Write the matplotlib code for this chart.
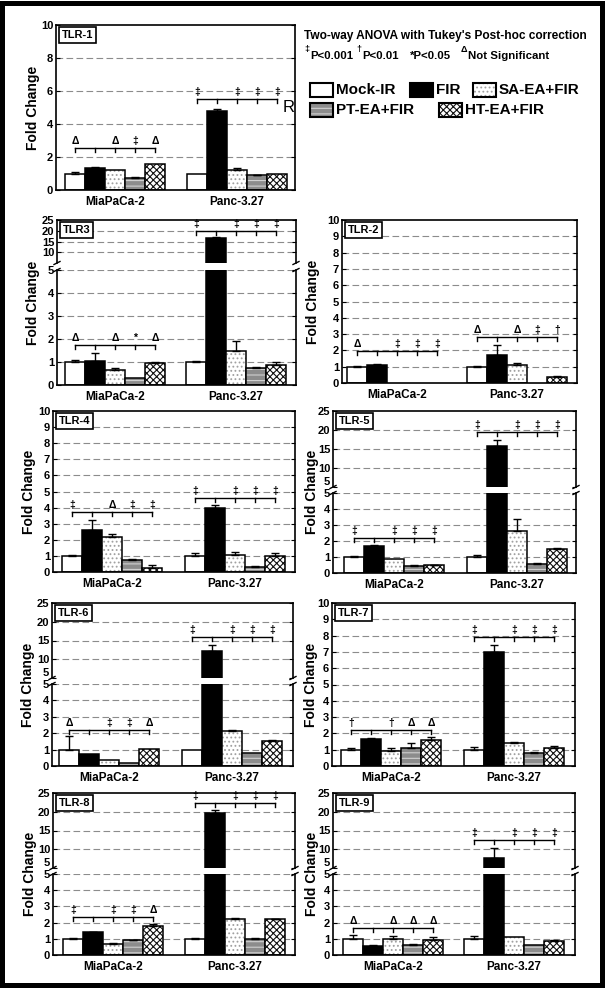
import matplotlib.pyplot as plt
from matplotlib.patches import Rectangle
from matplotlib.lines import Line2D

plt.rcParams["font.family"] = ["Liberation Sans", "DejaVu Sans"]
plt.rcParams["hatch.linewidth"] = 0.8

W, H = 606, 992

groups = ["MiaPaCa-2", "Panc-3.27"]
treatments = ["Mock-IR", "FIR", "SA-EA+FIR", "PT-EA+FIR", "HT-EA+FIR"]

# bar order in every list: Mock-IR, FIR, SA-EA+FIR, PT-EA+FIR, HT-EA+FIR
tlr1_mia = [1.0, 1.35, 1.2, 0.72, 1.58]
tlr1_mia_err = [0.1, 0.04, 0.0, 0.05, 0.0]
tlr1_panc = [1.0, 4.8, 1.2, 0.88, 0.97]
tlr1_panc_err = [0.0, 0.12, 0.12, 0.05, 0.0]
tlr1_sig_mia = ["Δ", "", "Δ", "‡", "Δ"]
tlr1_sig_panc = ["‡", "", "‡", "‡", "‡"]

tlr3_mia = [1.0, 1.05, 0.65, 0.32, 0.95]
tlr3_mia_err = [0.07, 0.35, 0.1, 0.0, 0.06]
tlr3_panc = [1.0, 16.5, 1.5, 0.75, 0.85]
tlr3_panc_err = [0.04, 0.7, 0.4, 0.04, 0.15]
tlr3_sig_mia = ["Δ", "", "Δ", "*", "Δ"]
tlr3_sig_panc = ["‡", "", "‡", "‡", "‡"]

tlr2_mia = [1.0, 1.08, 0.0, 0.0, 0.0]
tlr2_mia_err = [0.05, 0.06, 0.0, 0.0, 0.0]
tlr2_panc = [1.0, 1.7, 1.12, 0.0, 0.35]
tlr2_panc_err = [0.05, 0.65, 0.1, 0.0, 0.05]
tlr2_sig_mia = ["Δ", "", "‡", "‡", "‡"]
tlr2_sig_panc = ["Δ", "", "Δ", "‡", "†"]

tlr4_mia = [1.0, 2.6, 2.2, 0.75, 0.25]
tlr4_mia_err = [0.07, 0.65, 0.15, 0.07, 0.2]
tlr4_panc = [1.0, 4.0, 1.05, 0.3, 1.0]
tlr4_panc_err = [0.15, 0.15, 0.2, 0.05, 0.2]
tlr4_sig_mia = ["‡", "", "Δ", "‡", "‡"]
tlr4_sig_panc = ["‡", "", "‡", "‡", "‡"]

tlr5_mia = [1.0, 1.7, 0.85, 0.45, 0.5]
tlr5_mia_err = [0.05, 0.05, 0.0, 0.05, 0.03]
tlr5_panc = [1.0, 15.8, 2.65, 0.55, 1.5]
tlr5_panc_err = [0.1, 1.7, 0.7, 0.05, 0.05]
tlr5_sig_mia = ["‡", "", "‡", "‡", "‡"]
tlr5_sig_panc = ["‡", "", "‡", "‡", "‡"]

tlr6_mia = [1.0, 0.71, 0.35, 0.2, 1.04]
tlr6_mia_err = [0.8, 0.0, 0.0, 0.0, 0.0]
tlr6_panc = [1.0, 12.2, 2.15, 0.8, 1.5]
tlr6_panc_err = [0.0, 1.6, 0.05, 0.0, 0.1]
tlr6_sig_mia = ["Δ", "", "‡", "‡", "Δ"]
tlr6_sig_panc = ["‡", "", "‡", "‡", "‡"]

tlr7_mia = [1.0, 1.66, 0.9, 1.12, 1.6]
tlr7_mia_err = [0.08, 0.08, 0.22, 0.32, 0.15]
tlr7_panc = [1.0, 7.0, 1.4, 0.8, 1.1]
tlr7_panc_err = [0.15, 0.45, 0.08, 0.03, 0.1]
tlr7_sig_mia = ["†", "", "†", "Δ", "Δ"]
tlr7_sig_panc = ["‡", "", "‡", "‡", "‡"]

tlr8_mia = [1.0, 1.4, 0.7, 0.9, 1.8]
tlr8_mia_err = [0.03, 0.03, 0.05, 0.05, 0.1]
tlr8_panc = [1.0, 19.8, 2.2, 1.0, 2.2]
tlr8_panc_err = [0.08, 0.8, 0.08, 0.03, 0.03]
tlr8_sig_mia = ["‡", "", "‡", "‡", "Δ"]
tlr8_sig_panc = ["‡", "", "‡", "‡", "‡"]

tlr9_mia = [1.0, 0.55, 1.0, 0.62, 0.95]
tlr9_mia_err = [0.25, 0.08, 0.2, 0.03, 0.15]
tlr9_panc = [1.0, 7.6, 1.1, 0.6, 0.85]
tlr9_panc_err = [0.15, 2.7, 0.0, 0.0, 0.08]
tlr9_sig_mia = ["Δ", "", "Δ", "Δ", "Δ"]
tlr9_sig_panc = ["‡", "", "‡", "‡", "‡"]

styles = [
    dict(fc="white", hatch=None, hc="black"),
    dict(fc="black", hatch=None, hc="black"),
    dict(fc="white", hatch="....", hc="#a0a0a0"),
    dict(fc="#8c8c8c", hatch="---", hc="#d0d0d0"),
    dict(fc="white", hatch="xxxxx", hc="#101010"),
]

fig = plt.figure(figsize=(W / 100, H / 100), dpi=100)


def fx(x):
    return x / W


def fy(y):
    return 1 - y / H


def make_axes(x0, x1, y0, y1, cm, cp, lo, hi, ticks, grid):
    ax = fig.add_axes([fx(x0), fy(y1), (x1 - x0) / W, (y1 - y0) / H])
    unit = cp - cm
    ax.set_xlim((x0 - cm) / unit, (x1 - cm) / unit)
    ax.set_ylim(lo, hi)
    ax.set_yticks(ticks)
    ax.set_yticklabels([str(t) for t in ticks], fontweight="bold", fontsize=8)
    ax.tick_params(axis="y", direction="in", length=3, width=0.8, right=True, pad=2)
    for g in grid:
        ax.axhline(g, color="#8c8c8c", lw=0.8, ls=(0, (6, 3)), zorder=0)
    for s in ax.spines.values():
        s.set_linewidth(1.2)
    return ax, (y1 - y0) / (hi - lo)


def draw_bars(ax, bw, vals, errs, center):
    for i, (v, e) in enumerate(zip(vals, errs)):
        if v <= 0:
            continue
        x = center + (i - 2) * bw
        st = styles[i]
        ax.bar(x, v, bw, color=st["fc"], edgecolor=st["hc"], hatch=st["hatch"],
               linewidth=0, zorder=2)
        ax.bar(x, v, bw, fill=False, edgecolor="black", linewidth=1.1, zorder=2)
        if e > 0:
            ax.errorbar(x, v, yerr=[[0], [e]], fmt="none", ecolor="black",
                        elinewidth=1, capsize=3, capthick=1, zorder=3)


def bracket(ax, ppu, bw, center, y, sig):
    xs = [center + (i - 2) * bw for i in range(5)]
    tick = 4 / ppu
    ax.plot([xs[0], xs[-1]], [y, y], color="black", lw=1, clip_on=False, zorder=4)
    for x, s in zip(xs, sig):
        ax.plot([x, x], [y, y - tick], color="black", lw=1, clip_on=False, zorder=4)
        if s:
            ax.text(x, y + 2 / ppu, s, ha="center", va="bottom", fontsize=7.5,
                    fontweight="bold", clip_on=False, zorder=4)


def break_marks(x0, x1, ya, yb):
    for x in (x0, x1):
        for y in (ya, yb):
            fig.add_artist(Line2D([fx(x - 3), fx(x + 3)], [fy(y + 1.5), fy(y - 1.5)],
                                  transform=fig.transFigure, color="black", lw=1))


def panel(name, xs, ys, cm, cp, mia, mia_err, panc, panc_err, sig_mia, sig_panc,
          br_mia, br_panc, ticks, grid, label_x):
    x0, x1 = xs
    bw = 20 / (cp - cm)
    if len(ys) == 2:
        ax, ppu = make_axes(x0, x1, ys[0], ys[1], cm, cp, 0, 10, ticks, grid)
        axes = [(ax, ppu)]
        low, lppu = ax, ppu
        high, hppu = ax, ppu
        top, bottom = ys
    else:
        short = (ys[1] - ys[0]) < 60
        upper_ticks = [10, 15, 20, 25] if short else [5, 10, 15, 20, 25]
        high, hppu = make_axes(x0, x1, ys[0], ys[1], cm, cp, 5, 25,
                               upper_ticks, [10, 15, 20])
        low, lppu = make_axes(x0, x1, ys[2], ys[3], cm, cp, 0, 5,
                              [0, 1, 2, 3, 4, 5], [1, 2, 3, 4, 5])
        if not short:
            # lift the upper "5" so it sits just over the lower one
            high.get_yticklabels()[0].set_verticalalignment("bottom")
        high.spines["bottom"].set_visible(False)
        low.spines["top"].set_visible(False)
        high.set_xticks([])
        break_marks(x0, x1, ys[1], ys[2])
        axes = [(high, hppu), (low, lppu)]
        top, bottom = ys[0], ys[3]
    for ax, _ in axes:
        draw_bars(ax, bw, mia, mia_err, 0)
        draw_bars(ax, bw, panc, panc_err, 1)
    low.set_xticks([0, 1])
    low.set_xticklabels(groups, fontweight="bold", fontsize=8.5)
    low.tick_params(axis="x", length=0, pad=4)
    for y, sig, c in ((br_mia, sig_mia, 0), (br_panc, sig_panc, 1)):
        if len(ys) == 4 and y > 5:
            bracket(high, hppu, bw, c, y, sig)
        else:
            bracket(low, lppu, bw, c, y, sig)
    fig.text(fx(x0 + 6), fy(top + 5), name, ha="left", va="top", fontsize=8,
             fontweight="bold",
             bbox=dict(boxstyle="square,pad=0.25", fc="white", ec="black", lw=1.2))
    fig.text(fx(label_x), fy((top + bottom) / 2), "Fold Change", rotation=90,
             ha="center", va="center", fontsize=10, fontweight="bold")


t1 = [0, 1, 2, 3, 4, 5, 6, 7, 8, 9, 10]
g1 = [1, 2, 3, 4, 5, 6, 7, 8, 9]

panel("TLR-1", (56, 295), (25, 190), 115, 237, tlr1_mia, tlr1_mia_err,
      tlr1_panc, tlr1_panc_err, tlr1_sig_mia, tlr1_sig_panc, 2.55, 5.5,
      [0, 2, 4, 6, 8, 10], [2, 4, 6, 8], 33)
panel("TLR3", (57, 296), (220, 263, 270, 385), 115, 236, tlr3_mia, tlr3_mia_err,
      tlr3_panc, tlr3_panc_err, tlr3_sig_mia, tlr3_sig_panc, 1.74, 20.0,
      None, None, 33)
panel("TLR-2", (342, 577), (220, 383), 397, 517, tlr2_mia, tlr2_mia_err,
      tlr2_panc, tlr2_panc_err, tlr2_sig_mia, tlr2_sig_panc, 1.95, 2.8,
      t1, g1, 313)
panel("TLR-4", (53, 295), (411, 572), 112, 235, tlr4_mia, tlr4_mia_err,
      tlr4_panc, tlr4_panc_err, tlr4_sig_mia, tlr4_sig_panc, 3.75, 4.6,
      t1, g1, 29)
panel("TLR-5", (333, 576), (411, 487, 493, 573), 394, 517, tlr5_mia, tlr5_mia_err,
      tlr5_panc, tlr5_panc_err, tlr5_sig_mia, tlr5_sig_panc, 2.2, 19.5,
      None, None, 312)
panel("TLR-6", (52, 293), (603, 678, 684, 766), 109, 232, tlr6_mia, tlr6_mia_err,
      tlr6_panc, tlr6_panc_err, tlr6_sig_mia, tlr6_sig_panc, 2.2, 16.0,
      None, None, 28)
panel("TLR-7", (332, 575), (603, 766), 391, 514, tlr7_mia, tlr7_mia_err,
      tlr7_panc, tlr7_panc_err, tlr7_sig_mia, tlr7_sig_panc, 2.2, 7.93,
      t1, g1, 311)
panel("TLR-8", (53, 295), (793, 868, 874, 955), 113, 235, tlr8_mia, tlr8_mia_err,
      tlr8_panc, tlr8_panc_err, tlr8_sig_mia, tlr8_sig_panc, 2.35, 22.3,
      None, None, 30)
panel("TLR-9", (333, 575), (793, 868, 874, 955), 393, 514, tlr9_mia, tlr9_mia_err,
      tlr9_panc, tlr9_panc_err, tlr9_sig_mia, tlr9_sig_panc, 1.65, 12.5,
      None, None, 312)

# stray "R" next to the TLR-1 bracket
fig.text(fx(283), fy(108), "R", ha="left", va="center", fontsize=12)

# header text
fig.text(fx(304), fy(39), "Two-way ANOVA with Tukey's Post-hoc correction",
         ha="left", va="baseline", fontsize=8.6, fontweight="bold")
sig_line = [(304, 52, "‡", 6.5), (310, 59, "P<0.001", 8.2), (356, 52, "†", 6.5),
            (362, 59, "P<0.01", 8.2), (410, 59, "*P<0.05", 8.2), (461, 52, "Δ", 6.5),
            (468, 59, "Not Significant", 8.2)]
for x, y, s, size in sig_line:
    fig.text(fx(x), fy(y), s, ha="left", va="baseline", fontsize=size, fontweight="bold")

# legend
legend_pos = [(310, 90), (410, 90), (473, 90), (310, 110), (439, 110)]
for st, name, (x, y) in zip(styles, treatments, legend_pos):
    fig.add_artist(Rectangle((fx(x), fy(y + 7)), 23 / W, 14 / H, transform=fig.transFigure,
                             facecolor=st["fc"], edgecolor=st["hc"], hatch=st["hatch"], lw=0))
    fig.add_artist(Rectangle((fx(x), fy(y + 7)), 23 / W, 14 / H, transform=fig.transFigure,
                             fill=False, edgecolor="black", lw=1.5))
    fig.text(fx(x + 26), fy(y), name, ha="left", va="center", fontsize=11, fontweight="bold")

# outer frame
fig.add_artist(Rectangle((fx(2.5), fy(985)), 599 / W, 982.5 / H, transform=fig.transFigure,
                         fill=False, edgecolor="black", lw=3.6))

fig.savefig("out.png", dpi=100)
